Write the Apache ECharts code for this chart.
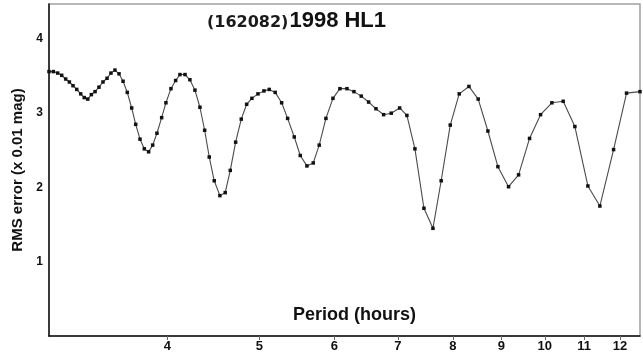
<!DOCTYPE html>
<html>
<head>
<meta charset="utf-8">
<script src="https://cdn.jsdelivr.net/npm/echarts@6/dist/echarts.min.js"></script>
<style>
html,body{margin:0;padding:0;background:#fff;}
#chart{width:643px;height:353px;}
</style>
</head>
<body>
<div id="chart"></div>
<script>
const periods = [
  3.000, 3.032, 3.064, 3.094, 3.124, 3.152, 3.180, 3.209, 3.240, 3.268,
  3.296, 3.325, 3.355, 3.387, 3.420, 3.454, 3.487, 3.521, 3.556, 3.591,
  3.628, 3.667, 3.703, 3.742, 3.781, 3.821, 3.859, 3.899, 3.944, 3.985,
  4.034, 4.080, 4.123, 4.174, 4.224, 4.276, 4.328, 4.378, 4.427, 4.481,
  4.543, 4.602, 4.659, 4.720, 4.785, 4.848, 4.910, 4.983, 5.056, 5.121,
  5.196, 5.278, 5.355, 5.442, 5.522, 5.612, 5.699, 5.782, 5.877, 5.978,
  6.080, 6.185, 6.291, 6.403, 6.519, 6.636, 6.761, 6.887, 7.029, 7.154,
  7.295, 7.456, 7.621, 7.775, 7.948, 8.123, 8.317, 8.506, 8.709, 8.923,
  9.157, 9.383, 9.636, 9.897, 10.173, 10.456, 10.757, 11.102, 11.430, 11.817,
  12.195, 12.599
];
const rmsValues = [
  3.56, 3.56, 3.54, 3.51, 3.46, 3.42, 3.37, 3.32, 3.26, 3.21,
  3.19, 3.25, 3.29, 3.35, 3.42, 3.47, 3.54, 3.58, 3.53, 3.43,
  3.28, 3.07, 2.85, 2.65, 2.52, 2.48, 2.57, 2.73, 2.94, 3.14,
  3.33, 3.44, 3.52, 3.52, 3.45, 3.31, 3.08, 2.77, 2.41, 2.09,
  1.89, 1.93, 2.23, 2.61, 2.92, 3.12, 3.20, 3.26, 3.30, 3.32,
  3.28, 3.14, 2.93, 2.68, 2.43, 2.29, 2.33, 2.57, 2.93, 3.20,
  3.33, 3.33, 3.29, 3.23, 3.15, 3.06, 2.98, 3.00, 3.07, 2.97,
  2.52, 1.72, 1.45, 2.09, 2.84, 3.26, 3.36, 3.19, 2.76, 2.28,
  2.01, 2.17, 2.66, 2.98, 3.14, 3.16, 2.82, 2.02, 1.75, 2.51,
  3.27, 3.29
];
const xTickValues = [4, 5, 6, 7, 8, 9, 10, 11, 12];
const yTickValues = [1, 2, 3, 4];
const titleId = '(162082)';
const titleName = '1998 HL1';
const xName = 'Period (hours)';
const yName = 'RMS error (x 0.01 mag)';

const seriesData = periods.map((p, i) => [p, rmsValues[i]]);

const chart = echarts.init(document.getElementById('chart'), null, {renderer: 'canvas'});
chart.setOption({
  backgroundColor: '#ffffff',
  animation: false,
  title: {
    text: '{a|' + titleId + '}{b|' + titleName + '}',
    left: 202,
    top: 5,
    textStyle: {
      rich: {
        a: {fontFamily: 'DejaVu Sans', fontWeight: 'bold', fontSize: 16, color: '#1a1a1a', verticalAlign: 'bottom', padding: [0, 1, 1, 0]},
        b: {fontFamily: 'Liberation Sans', fontWeight: 'bold', fontSize: 22, color: '#111', verticalAlign: 'bottom'}
      }
    }
  },
  graphic: [{
    type: 'text',
    left: 293,
    top: 306,
    style: {
      text: xName,
      fontFamily: 'Liberation Sans',
      fontWeight: 'bold',
      fontSize: 18,
      fill: '#111'
    }
  }],
  grid: {
    left: 49, right: 3, top: 4, bottom: 16,
    show: true,
    borderColor: '#a0a0a0',
    borderWidth: 1.5,
    backgroundColor: 'transparent'
  },
  xAxis: {
    type: 'log',
    logBase: 10,
    min: 3,
    max: 12.6,
    axisLine: {show: true, onZero: false, lineStyle: {color: '#111', width: 1.5}},
    axisTick: {show: true, customValues: xTickValues, length: 4, inside: false, lineStyle: {color: '#666', width: 1}},
    axisLabel: {
      customValues: xTickValues,
      fontFamily: 'Liberation Sans',
      fontWeight: 'bold',
      fontSize: 13,
      color: '#111',
      margin: 4
    },
    splitLine: {show: false},
    minorTick: {show: false}
  },
  yAxis: {
    type: 'value',
    min: 0,
    max: 4.47,
    name: yName,
    nameLocation: 'middle',
    nameGap: 20,
    nameTextStyle: {fontFamily: 'Liberation Sans', fontWeight: 'bold', fontSize: 15, color: '#111'},
    axisLine: {show: true, lineStyle: {color: '#111', width: 1.5}},
    axisTick: {show: false},
    axisLabel: {
      customValues: yTickValues,
      fontFamily: 'Liberation Sans',
      fontWeight: 'bold',
      fontSize: 12,
      color: '#111',
      margin: 6
    },
    splitLine: {show: false}
  },
  series: [{
    type: 'line',
    data: seriesData,
    symbol: 'rect',
    symbolSize: 3.5,
    showAllSymbol: true,
    clip: false,
    lineStyle: {color: '#4a4a4a', width: 1.1},
    itemStyle: {color: '#111'}
  }]
});
</script>
</body>
</html>
